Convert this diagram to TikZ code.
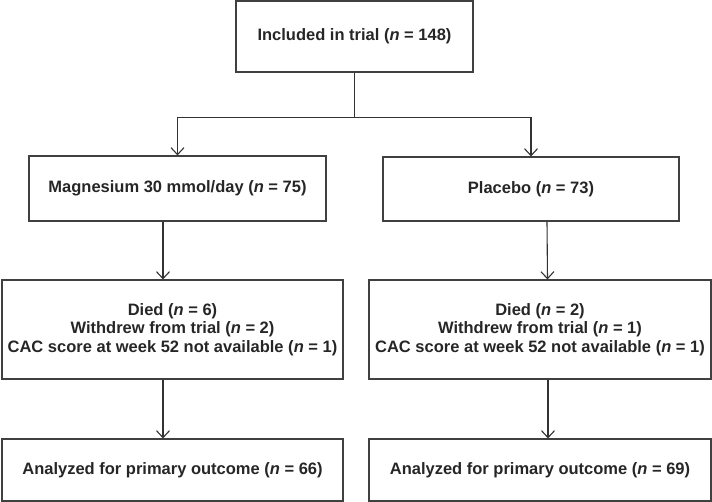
\documentclass[tikz,border=0pt]{standalone}
\usepackage{fontspec}
\setmainfont{Liberation Sans}
\usetikzlibrary{arrows.meta}
\newcommand{\nn}{\textit{n}}
\begin{document}
\begin{tikzpicture}[x=1pt,y=-1pt,>={Straight Barb[length=7pt,width=13pt]},
  line width=1.1pt,
  flowbox/.style={draw=black!75,align=center,inner sep=0pt,
    font=\fontsize{16.5}{18.5}\selectfont\bfseries,text=black!85},
  link/.style={draw=black!80,->}]
\useasboundingbox (0,0) rectangle (712,502);
\node[flowbox,minimum width=237,minimum height=71] (trial) at (354.5,36.5) {Included in trial (\nn{} = 148)};
\node[flowbox,minimum width=297,minimum height=65] (mag) at (177.5,188.5) {Magnesium 30 mmol/day (\nn{} = 75)};
\node[flowbox,minimum width=296,minimum height=64] (plac) at (531,189) {Placebo (\nn{} = 73)};
\node[flowbox,minimum width=341,minimum height=99] (lostL) at (172.5,329.5) {Died (\nn{} = 6)\\Withdrew from trial (\nn{} = 2)\\CAC score at week 52 not available (\nn{} = 1)};
\node[flowbox,minimum width=342,minimum height=99] (lostR) at (540,329.5) {Died (\nn{} = 2)\\Withdrew from trial (\nn{} = 1)\\CAC score at week 52 not available (\nn{} = 1)};
\node[flowbox,minimum width=341,minimum height=62] (anL) at (172.5,470) {Analyzed for primary outcome (\nn{} = 66)};
\node[flowbox,minimum width=342,minimum height=62] (anR) at (540,470) {Analyzed for primary outcome (\nn{} = 69)};
% split into the two arms
\draw[draw=black!80] (trial.south) -- ++(0,45) coordinate (split);
\draw[link] (split) -| (mag.north);
\draw[link] (split) -| (plac.north);
% left arm
\draw[link] ([xshift=-14.5pt]mag.south) -- ([xshift=-9.5pt]lostL.north);
\draw[link] ([xshift=-9.5pt]lostL.south) -- ([xshift=-9.5pt]anL.north);
% right arm
\draw[link] ([xshift=16pt]plac.south) -- ([xshift=7.5pt]lostR.north);
\draw[link] ([xshift=8pt]lostR.south) -- ([xshift=8pt]anR.north);
\end{tikzpicture}
\end{document}
